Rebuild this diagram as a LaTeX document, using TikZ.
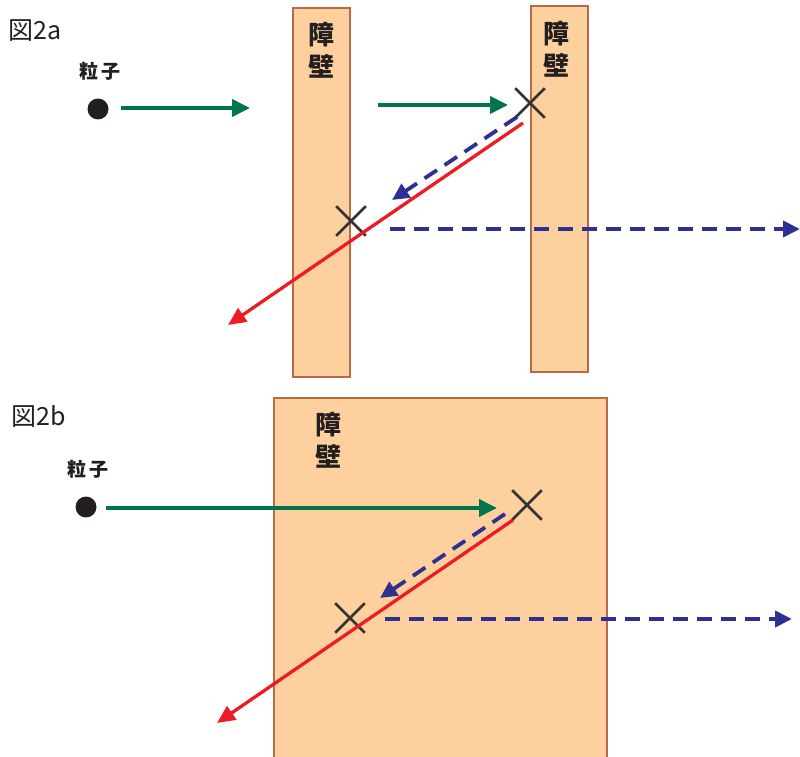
\documentclass[tikz,border=0pt]{standalone}
\usepackage{fontspec}
\newfontfamily\cjk{Noto Sans CJK JP}
\usetikzlibrary{arrows.meta,shapes.misc}
\definecolor{wallfill}{HTML}{FDD09E}
\definecolor{wallline}{HTML}{B86A48}
\definecolor{ink}{HTML}{231F20}
\definecolor{crossc}{HTML}{333333}
\definecolor{pgreen}{HTML}{00744A}
\definecolor{pblue}{HTML}{2E3192}
\definecolor{pred}{HTML}{ED1C24}
\begin{document}
\begin{tikzpicture}[x=1pt,y=-1pt,
  wall/.style={fill=wallfill, draw=wallline, line width=1.4pt},
  walltext/.style={font=\cjk\bfseries\fontsize{26}{32}\selectfont, text=ink, align=center, inner sep=0pt},
  partlabel/.style={font=\cjk\bfseries\fontsize{19}{22}\selectfont, text=ink, inner sep=0pt},
  figlabel/.style={font=\cjk\fontsize{25}{28}\selectfont, text=ink, inner sep=0pt, anchor=west},
  dot/.style={circle, fill=ink, minimum size=21pt, inner sep=0pt},
  hit/.style={cross out, draw=crossc, line width=2.6pt, minimum size=27pt, inner sep=0pt},
  incoming/.style={draw=pgreen, line width=3.8pt, -{Triangle[length=18pt,width=17pt]}},
  wave/.style={draw=pblue, line width=3.8pt, dash pattern=on 15pt off 9pt, -{Triangle[length=17pt,width=16pt]}},
  bounce/.style={draw=pred, line width=3.3pt, -{Triangle[length=18pt,width=16pt]}}]
\useasboundingbox (0,0) rectangle (800,757);

% ---------- 図2a: two thin walls ----------
\node[figlabel] (fa) at (8,31) {図2a};
\draw[wall] (293,8) rectangle (350,377);
\draw[wall] (531,6) rectangle (588,372);
\node[walltext] (wa1) at (321,50) {障\\壁};
\node[walltext] (wa2) at (556,49) {障\\壁};

\node[partlabel] (la) at (100,71) {粒\hspace{4pt}子};
\node[dot] (pa) at (98,109) {};

\node[hit] (xa1) at (530,103) {};
\node[hit] (xa2) at (351,221) {};

\coordinate (ga1s) at (121,108);
\coordinate (ga1e) at (250,108);
\coordinate (ga2s) at (378,105);
\coordinate (ga2e) at (508,105);
\coordinate (ra1s) at (523,123);
\coordinate (ra1e) at (228,325);
\coordinate (ba1s) at (517,117);
\coordinate (ba1e) at (392,200);
\coordinate (ba2s) at (390,229);
\coordinate (ba2e) at (800,229);

\draw[incoming] (ga1s) -- (ga1e);
\draw[incoming] (ga2s) -- (ga2e);
\draw[bounce] (ra1s) -- (ra1e);
\draw[wave] (ba1s) -- (ba1e);
\draw[wave] (ba2s) -- (ba2e);

% ---------- 図2b: one thick wall ----------
\node[figlabel] (fb) at (11,417) {図2b};
\fill[wallfill] (274,398) rectangle (607,757);
\draw[wallline, line width=1.4pt] (274,757) -- (274,398) -- (607,398) -- (607,757);
\node[walltext] (wb) at (328,440) {障\\壁};

\node[partlabel] (lb) at (88,469) {粒\hspace{4pt}子};
\node[dot] (pb) at (86,507) {};

\node[hit] (xb1) at (527,505) {};
\node[hit] (xb2) at (350,618) {};

\coordinate (gbs) at (106,508);
\coordinate (gbe) at (497,508);
\coordinate (rbs) at (513,520);
\coordinate (rbe) at (217,723);
\coordinate (bb1s) at (505,514);
\coordinate (bb1e) at (380,598);
\coordinate (bb2s) at (385,619);
\coordinate (bb2e) at (792,619);

\draw[incoming] (gbs) -- (gbe);
\draw[bounce] (rbs) -- (rbe);
\draw[wave] (bb1s) -- (bb1e);
\draw[wave] (bb2s) -- (bb2e);
\end{tikzpicture}
\end{document}
